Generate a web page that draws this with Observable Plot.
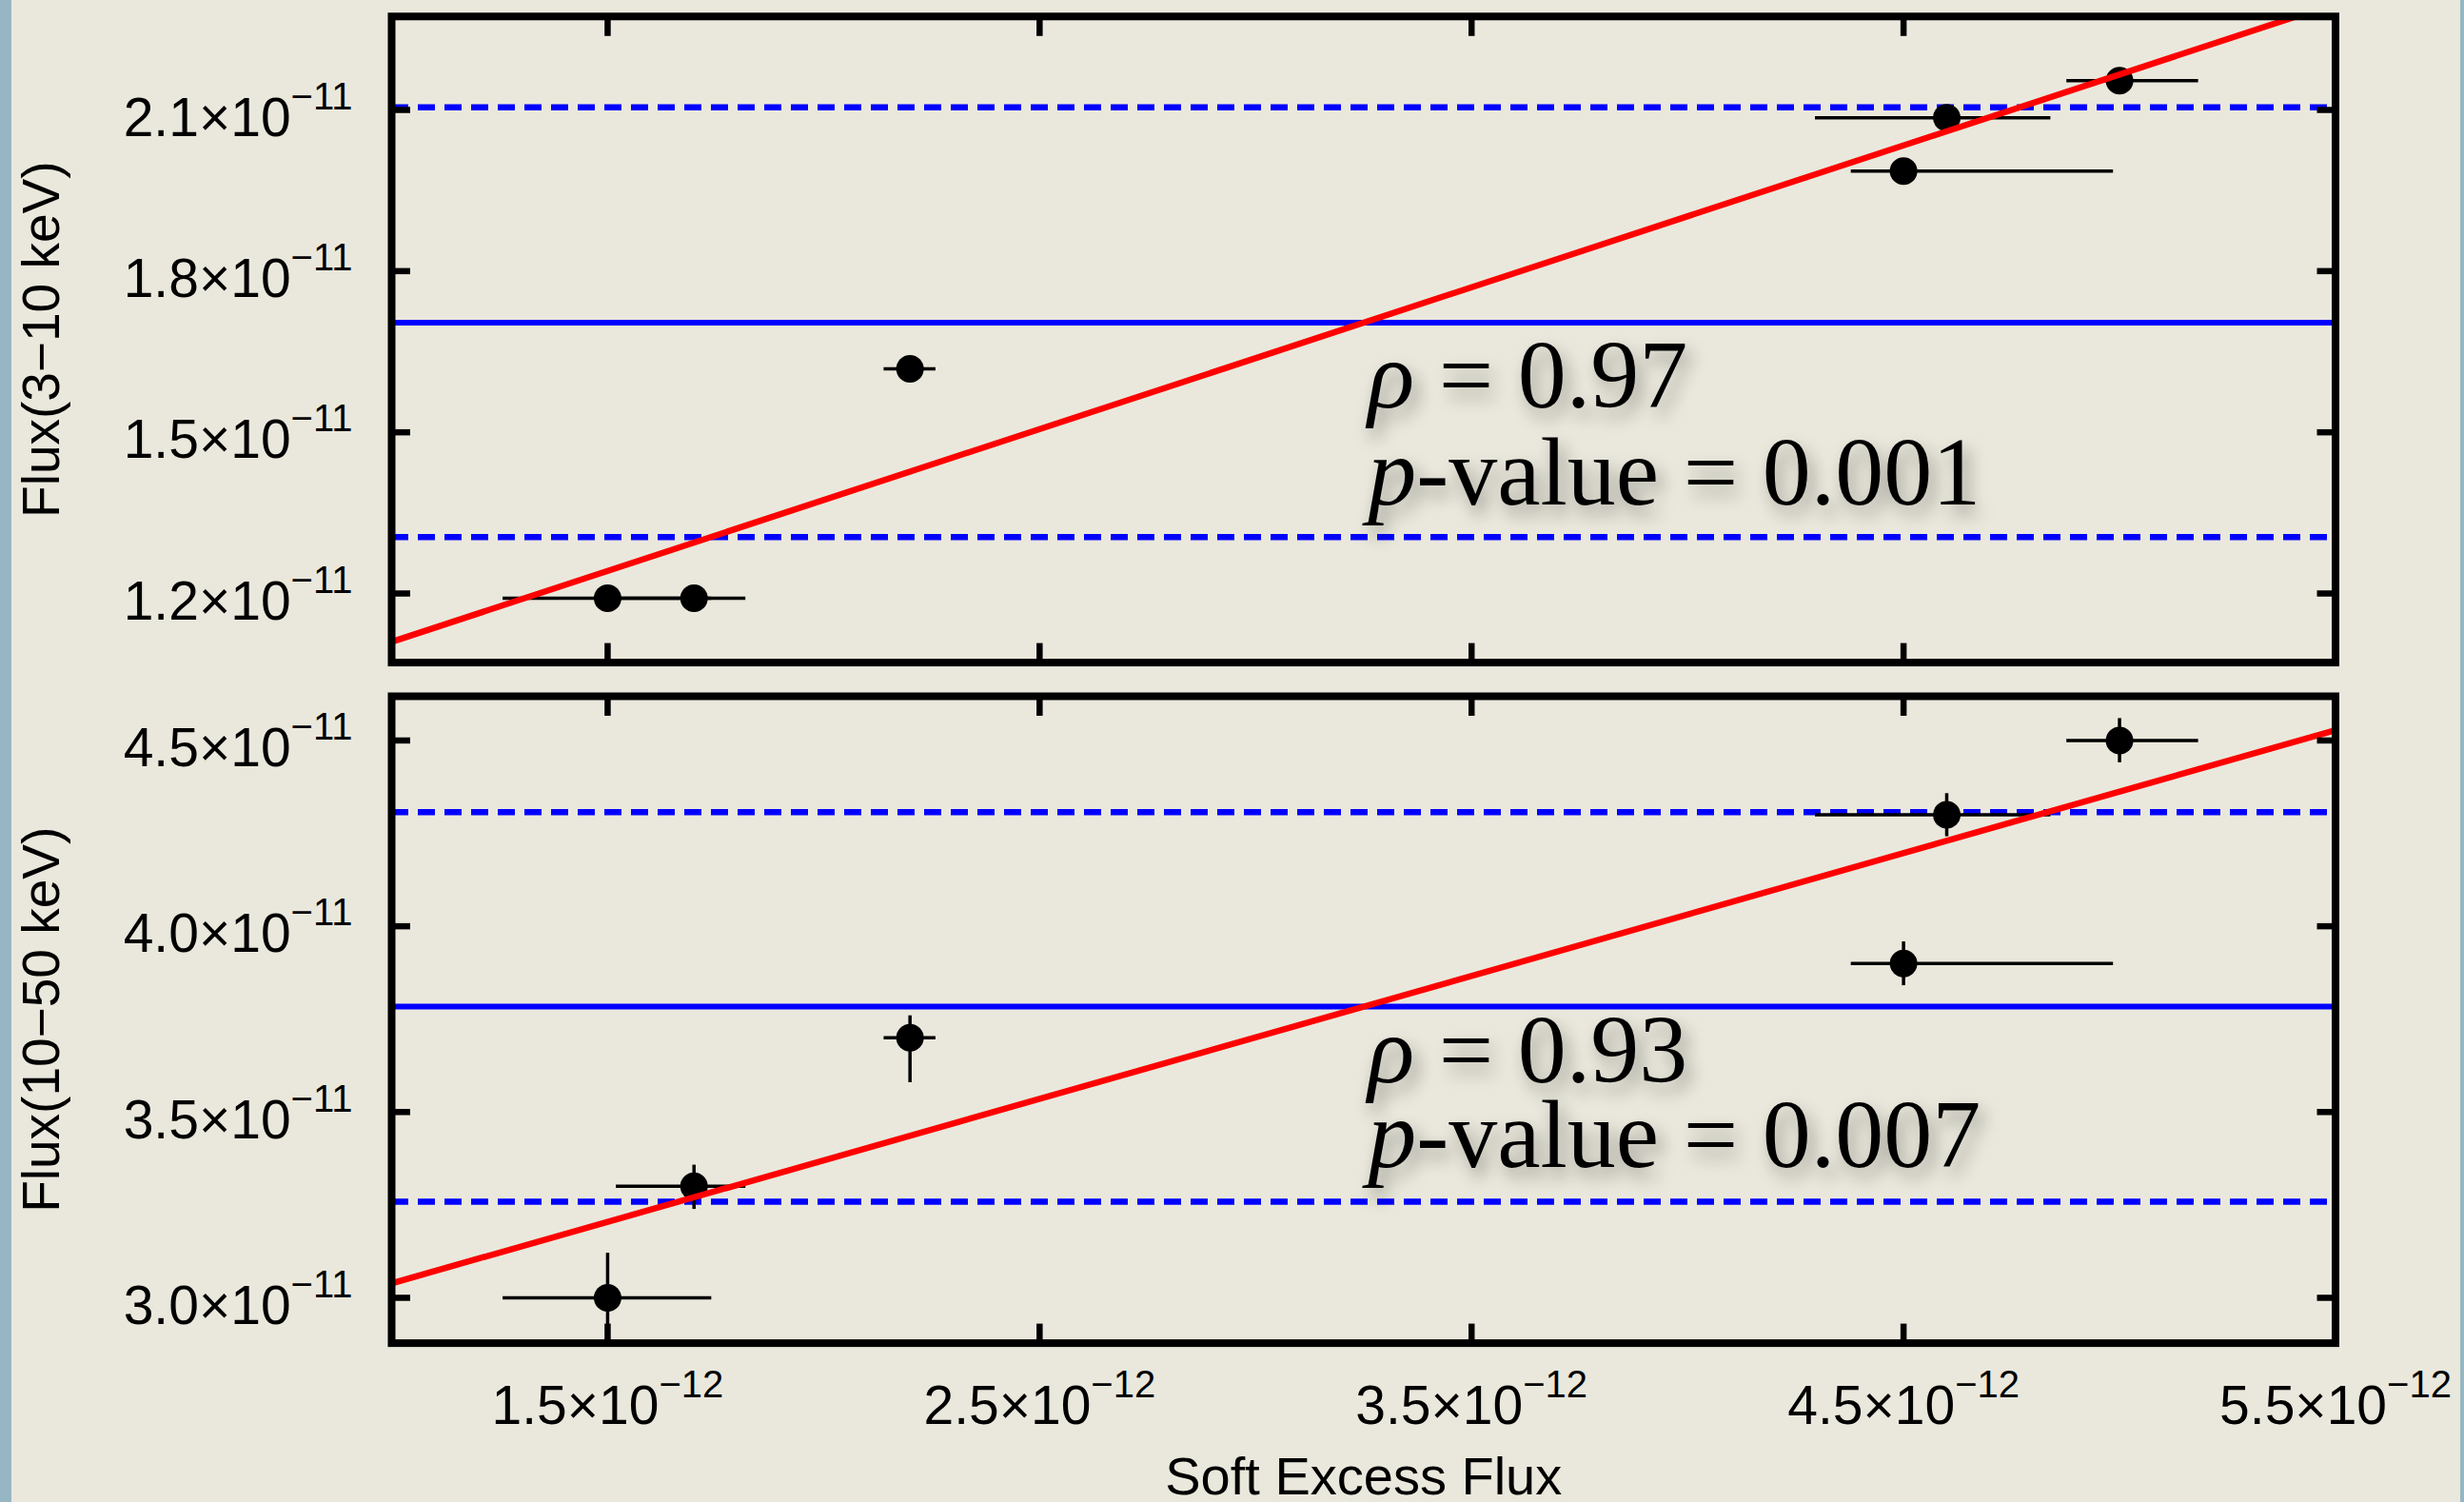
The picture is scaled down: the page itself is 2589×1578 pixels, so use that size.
<!DOCTYPE html>
<html>
<head>
<meta charset="utf-8">
<script src="https://cdn.jsdelivr.net/npm/d3@7"></script>
<script src="https://cdn.jsdelivr.net/npm/@observablehq/plot@0.6"></script>
<style>
html, body { margin: 0; padding: 0; background: #eae8dc; overflow: hidden; }
#page { position: relative; width: 2589px; height: 1578px; overflow: hidden; background: #eae8dc; }
#edgeL { position: absolute; left: 0; top: 0; width: 12px; height: 1578px; background: #97b6c4; }
#edgeR { position: absolute; right: 0; top: 0; width: 4px; height: 1578px; background: #97b6c4; }
#top, #bottom { position: absolute; left: 0; }
#top { top: 0; }
#bottom { top: 713px; }
svg.plot { max-width: none !important; }
</style>
</head>
<body>
<div id="page"><div id="edgeL"></div><div id="edgeR"></div><div id="top"></div><div id="bottom"></div></div>
<script>
// ---- data ----
const softFlux   = [1.5e-12, 1.7e-12, 2.2e-12, 4.5e-12, 4.6e-12, 5.0e-12];
const softFluxLo = [1.258e-12, 1.52e-12, 2.14e-12, 4.379e-12, 4.296e-12, 4.878e-12];
const softFluxHi = [1.741e-12, 1.82e-12, 2.26e-12, 4.986e-12, 4.841e-12, 5.183e-12];

const flux3to10  = [1.191e-11, 1.191e-11, 1.618e-11, 1.986e-11, 2.0855e-11, 2.1545e-11];

const flux10to50   = [3.0e-11, 3.3e-11, 3.70e-11, 3.90e-11, 4.30e-11, 4.50e-11];
const flux10to50Lo = [2.88e-11, 3.238e-11, 3.579e-11, 3.84e-11, 4.241e-11, 4.44e-11];
const flux10to50Hi = [3.12e-11, 3.357e-11, 3.759e-11, 3.958e-11, 4.357e-11, 4.559e-11];

// mean (solid) and mean ± sigma (dashed) levels
const meanTop = [1.704e-11];
const bandTop = [1.305e-11, 2.105e-11];
const meanBot = [3.784e-11];
const bandBot = [3.259e-11, 4.307e-11];

// fitted lines (end points)
const fitTopX = [1.0e-12, 5.5e-12];
const fitTopY = [1.110e-11, 2.298e-11];
const fitBotX = [1.0e-12, 5.5e-12];
const fitBotY = [3.039e-11, 4.528e-11];

// axes
const xDomain = [1.0e-12, 5.5e-12];
const yTopDomain = [1.0714e-11, 2.274e-11];
const yBotDomain = [2.878e-11, 4.619e-11];
const xTicks = [1.5e-12, 2.5e-12, 3.5e-12, 4.5e-12, 5.5e-12];
const xTickLabels = ["1.5×10^−12", "2.5×10^−12", "3.5×10^−12", "4.5×10^−12", "5.5×10^−12"];
const yTopTicks = [1.2e-11, 1.5e-11, 1.8e-11, 2.1e-11];
const yTopTickLabels = ["1.2×10^−11", "1.5×10^−11", "1.8×10^−11", "2.1×10^−11"];
const yBotTicks = [3.0e-11, 3.5e-11, 4.0e-11, 4.5e-11];
const yBotTickLabels = ["3.0×10^−11", "3.5×10^−11", "4.0×10^−11", "4.5×10^−11"];
const yTopLabel = ["Flux(3−10 keV)"];
const yBotLabel = ["Flux(10−50 keV)"];
const xLabel = ["Soft Excess Flux"];

// annotations
const annotTopText = ["ρ = 0.97", "p-value = 0.001"];
const annotTopX = [3.26e-12, 3.26e-12];
const annotTopY = [1.547e-11, 1.366e-11];
const annotBotText = ["ρ = 0.93", "p-value = 0.007"];
const annotBotX = [3.26e-12, 3.26e-12];
const annotBotY = [3.58e-11, 3.353e-11];

// ---- tables built from the arrays ----
const rows = softFlux.map((x, i) => ({
  x, xlo: softFluxLo[i], xhi: softFluxHi[i],
  yA: flux3to10[i],
  yB: flux10to50[i], yBlo: flux10to50Lo[i], yBhi: flux10to50Hi[i]
}));
const fitTop = fitTopX.map((x, i) => ({x, y: fitTopY[i]}));
const fitBot = fitBotX.map((x, i) => ({x, y: fitBotY[i]}));
const annotTop = annotTopText.map((t, i) => ({text: t, x: annotTopX[i], y: annotTopY[i]}));
const annotBot = annotBotText.map((t, i) => ({text: t, x: annotBotX[i], y: annotBotY[i]}));

const FONT = "'Liberation Sans', Arial, Helvetica, sans-serif";
const SERIF = "'Liberation Serif', 'Times New Roman', serif";
const BLUE = "#0000ff", RED = "#ff0000";
const TICK = 20, TICKW = 6.5, FS = 57, ANNOT_FS = 102;

const common = {
  width: 2589,
  marginLeft: 411,
  marginRight: 135.5,
  x: {domain: xDomain},
  style: {background: "transparent", fontFamily: FONT, color: "black", overflow: "visible"}
};

function frameTicks(yTicks) {
  const blank = () => "";
  return [
    Plot.axisX(xTicks, {anchor: "bottom", tickSize: -TICK, strokeWidth: TICKW, tickFormat: blank, label: null}),
    Plot.axisX(xTicks, {anchor: "top", tickSize: -TICK, strokeWidth: TICKW, tickFormat: blank, label: null}),
    Plot.axisY(yTicks, {anchor: "left", tickSize: -TICK, strokeWidth: TICKW, tickFormat: blank, label: null}),
    Plot.axisY(yTicks, {anchor: "right", tickSize: -TICK, strokeWidth: TICKW, tickFormat: blank, label: null})
  ];
}

function panelMarks(yKey, mean, band, fit, annot, yTicks, yTickLabels, yLabel, withYErr) {
  return [
    Plot.ruleY(band, {stroke: BLUE, strokeWidth: 6.5, strokeDasharray: "18,10"}),
    Plot.ruleY(mean, {stroke: BLUE, strokeWidth: 6}),
    Plot.ruleY(rows, {y: yKey, x1: "xlo", x2: "xhi", stroke: "black", strokeWidth: 3.5}),
    withYErr ? Plot.ruleX(rows, {x: "x", y1: "yBlo", y2: "yBhi", stroke: "black", strokeWidth: 3.5}) : null,
    Plot.dot(rows, {x: "x", y: yKey, r: 14.5, fill: "black"}),
    Plot.line(fit, {x: "x", y: "y", stroke: RED, strokeWidth: 6.5, clip: true}),
    Plot.text(annot, {x: "x", y: "y", text: "text", textAnchor: "start", lineAnchor: "bottom",
      fontSize: ANNOT_FS, fontFamily: SERIF, fill: "black"}),
    Plot.frame({stroke: "black", strokeWidth: 8}),
    ...frameTicks(yTicks),
    Plot.axisY(yTicks, {anchor: "left", tickSize: 0, tickPadding: 41, fontSize: FS, dy: 9,
      tickFormat: d => yTickLabels[yTicks.indexOf(d)], label: null}),
    Plot.text(yLabel, {frameAnchor: "left", text: d => d, rotate: -90, dx: -367,
      textAnchor: "middle", lineAnchor: "middle", fontSize: 55})
  ];
}

function postProcess(svg) {
  const s = d3.select(svg);
  s.selectAll("text").each(function () {
    const t = this.textContent;
    if (!t.includes("^")) return;
    const [base, sup] = t.split("^");
    const sel = d3.select(this);
    sel.text(null);
    sel.append("tspan").text(base);
    sel.append("tspan").attr("dy", -28).attr("font-size", 40).text(sup);
  });
  // annotation texts: the group carrying the serif font
  const ann = s.selectAll("g").filter(function () {
    return String(this.getAttribute("font-family") || "").includes("Liberation Serif");
  });
  ann.style("filter", "drop-shadow(6px 10px 9px rgba(0,0,0,0.35))");
  ann.selectAll("text").each(function () {
    const t = this.textContent;
    const sel = d3.select(this);
    sel.text(null);
    sel.append("tspan").attr("font-style", "italic").text(t.slice(0, 1));
    sel.append("tspan").text(t.slice(1));
  });
  return svg;
}

const topPlot = Plot.plot({
  ...common,
  height: 713,
  marginTop: 16.8,
  marginBottom: 17.4,
  y: {domain: yTopDomain},
  marks: panelMarks("yA", meanTop, bandTop, fitTop, annotTop, yTopTicks, yTopTickLabels, yTopLabel, false)
});

const botPlot = Plot.plot({
  ...common,
  height: 865,
  marginTop: 18,
  marginBottom: 167.4,
  y: {domain: yBotDomain},
  marks: [
    ...panelMarks("yB", meanBot, bandBot, fitBot, annotBot, yBotTicks, yBotTickLabels, yBotLabel, true),
    Plot.axisX(xTicks, {anchor: "bottom", tickSize: 0, tickPadding: 44, fontSize: FS,
      tickFormat: d => xTickLabels[xTicks.indexOf(d)], label: null}),
    Plot.text(xLabel, {frameAnchor: "bottom", text: d => d, dy: 119, lineAnchor: "top",
      textAnchor: "middle", fontSize: 56})
  ]
});

document.getElementById("top").appendChild(postProcess(topPlot));
document.getElementById("bottom").appendChild(postProcess(botPlot));
</script>
</body>
</html>
